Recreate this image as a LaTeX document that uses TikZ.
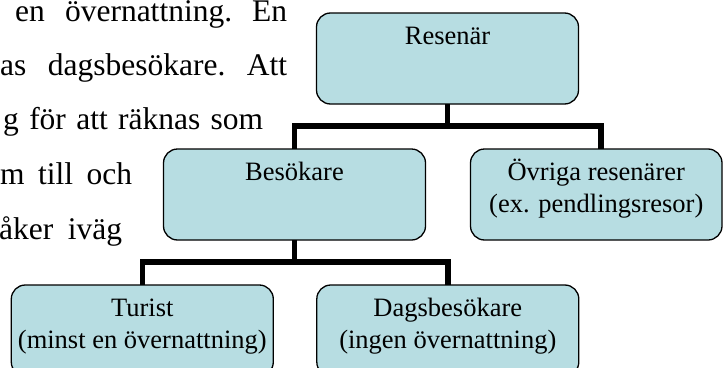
\documentclass[tikz,border=0pt]{standalone}
\usepackage{fontspec}
\setmainfont{Liberation Serif}
\definecolor{boxfill}{RGB}{183,221,226}
\begin{document}
\begin{tikzpicture}[x=1pt,y=-1pt,
  box/.style={draw=black, line width=1.3pt, fill=boxfill, rounded corners=14pt,
    minimum width=262pt, minimum height=91pt, inner sep=0pt, outer sep=0pt},
  conn/.style={draw=black, line width=5.5pt},
  para/.style={inner sep=0pt, anchor=base west, font=\fontsize{31.5}{38}\selectfont\frenchspacing},
  lbl/.style={inner sep=0pt, anchor=base, font=\fontsize{26.5}{32}\selectfont}]
\useasboundingbox (0,0) rectangle (723,367);
\clip (0,0) rectangle (723,367);

% running text at the left
\node[para] (p1) at (15,21.7)  {\makebox[272pt][s]{en övernattning. En}};
\node[para] (p2) at (0,75.3)   {\makebox[287pt][s]{as dagsbesökare. Att}};
\node[para] (p3) at (3,129.8)  {\makebox[260pt][s]{g för att räknas som}};
\node[para] (p4) at (0,184.4)  {\makebox[132pt][s]{m till och}};
\node[para] (p5) at (-1,239)   {\makebox[123pt][s]{åker iväg}};

% boxes
\node[box] (res) at (447.5,58.5) {};
\node[box] (bes) at (294.5,194.5) {};
\node[box, minimum width=251.5pt] (ovr) at (596.25,194.5) {};
\node[box] (tur) at (142.3,330.5) {};
\node[box] (dag) at (447.8,330.5) {};

% labels
\node[lbl] (resT) at (447.5,44) {Resenär};
\node[lbl] (besT) at (294.5,180) {Besökare};
\node[lbl] (ovrT1) at (596.25,180) {Övriga resenärer};
\node[lbl] (ovrT2) at (596.25,212) {(ex. pendlingsresor)};
\node[lbl] (turT1) at (142.3,316) {Turist};
\node[lbl] (turT2) at (142.3,348) {(minst en övernattning)};
\node[lbl] (dagT1) at (447.8,316) {Dagsbesökare};
\node[lbl] (dagT2) at (447.8,348) {(ingen övernattning)};

% connectors
\coordinate (bus1) at (0,126);
\coordinate (bus2) at (0,262);
\coordinate (ovrin) at ([xshift=4.5pt]ovr.north);
\draw[conn] (res.south) -- (res.south |- bus1);
\draw[conn] (bes.north) |- (ovrin |- bus1) -- (ovrin);
\draw[conn] (bes.south) -- (bes.south |- bus2);
\draw[conn] (tur.north) |- (dag.north |- bus2) -- (dag.north);
\end{tikzpicture}
\end{document}
